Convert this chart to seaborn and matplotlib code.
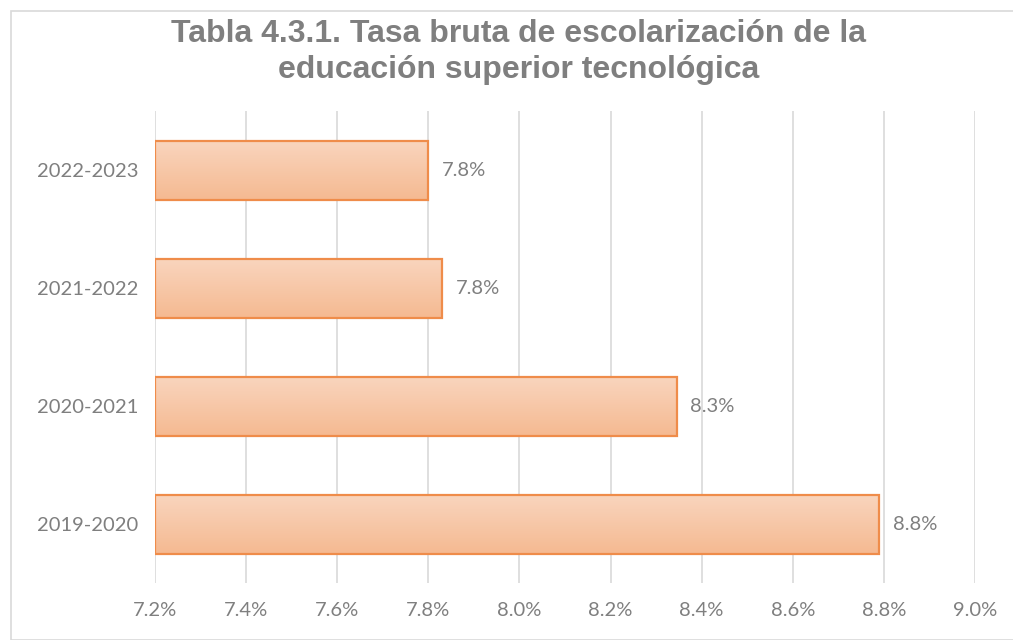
import numpy as np
import pandas as pd
import matplotlib.pyplot as plt
import seaborn as sns
from matplotlib.patches import Rectangle
from matplotlib.colors import LinearSegmentedColormap
from matplotlib.ticker import FuncFormatter

# data
periodos = ['2022-2023', '2021-2022', '2020-2021', '2019-2020']
tasa = [7.80, 7.83, 8.345, 8.79]
etiquetas = ['7.8%', '7.8%', '8.3%', '8.8%']

df = pd.DataFrame({'periodo': periodos, 'tasa': tasa})

sns.set_theme(style='white')
plt.rcParams['font.family'] = ['Lato', 'DejaVu Sans']

fig = plt.figure(figsize=(10.13, 6.4), dpi=100)
ax = fig.add_axes([155 / 1013, 1 - 583 / 640, 820 / 1013, 472 / 640])

sns.barplot(data=df, x='tasa', y='periodo', orient='h', width=0.5, ax=ax,
            color='#f6c4a2')

# gradient fill clipped to each bar
grad = LinearSegmentedColormap.from_list('g', ['#f9d5be', '#f5ba92'])
for p in ax.patches:
    x0, y0 = p.get_x(), p.get_y()
    w, h = p.get_width(), p.get_height()
    x0, w = 7.2, x0 + w - 7.2
    p.set_x(x0)
    p.set_width(w)
    p.set_facecolor('none')
    p.set_edgecolor('#ef8c4a')
    p.set_linewidth(1.6)
    p.set_zorder(3)
    im = ax.imshow(np.linspace(0, 1, 100).reshape(-1, 1), cmap=grad, aspect='auto',
                   extent=(x0, x0 + w, y0 + h, y0), origin='upper', zorder=2)
    im.set_clip_path(p)

ax.set_xlim(7.2, 9.0)
ax.set_ylim(3.5, -0.5)
ax.set_xticks(np.arange(7.2, 9.01, 0.2))
ax.xaxis.set_major_formatter(FuncFormatter(lambda v, _: f'{v:.1f}%'))
ax.grid(axis='x', color='#d9d9d9', linewidth=1.2)
ax.grid(axis='y', visible=False)
ax.set_axisbelow(True)
for s in ax.spines.values():
    s.set_visible(False)
ax.tick_params(axis='both', length=0, colors='#7f7f7f', labelsize=14.5)
ax.tick_params(axis='x', pad=14)
ax.tick_params(axis='y', pad=12)
ax.set_xlabel('')
ax.set_ylabel('')

for i, (v, lab) in enumerate(zip(tasa, etiquetas)):
    ax.annotate(lab, (v, i), xytext=(10, 0), textcoords='offset points',
                va='center', ha='left', fontsize=14.5, color='#7f7f7f')

fig.text(0.512, 1 - 52 / 640, 'Tabla 4.3.1. Tasa bruta de escolarización de la\neducación superior tecnológica',
         ha='center', va='center', fontsize=23, fontweight='bold', color='#7f7f7f',
         family=['Liberation Sans', 'DejaVu Sans'], linespacing=1.28)

fig.patches.append(Rectangle((11 / 1013, 0), 1.2, 1 - 11 / 640, transform=fig.transFigure,
                             fill=False, edgecolor='#d9d9d9', linewidth=1.2))

fig.savefig('out.png', dpi=100)
